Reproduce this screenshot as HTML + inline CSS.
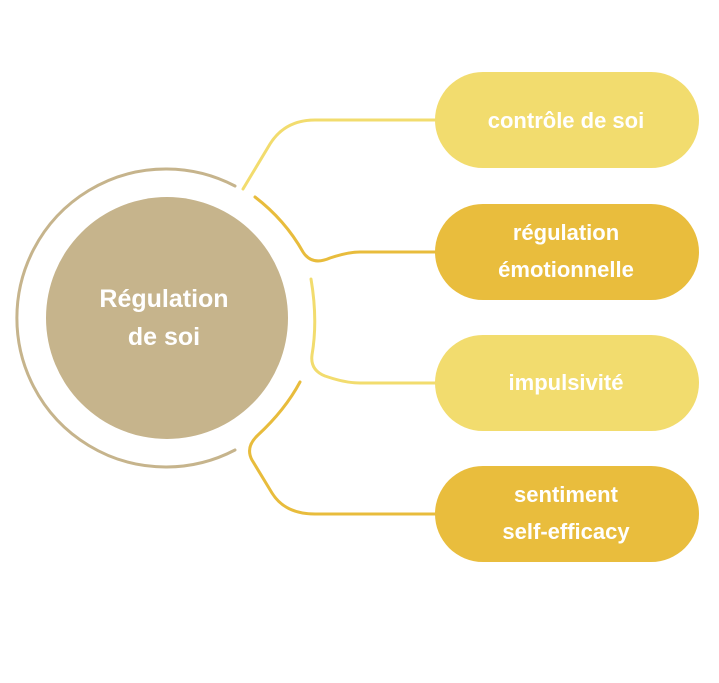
<!DOCTYPE html>
<html><head><meta charset="utf-8"><style>
body{margin:0;background:#fff;width:719px;height:678px;overflow:hidden}
</style></head><body>
<svg width="719" height="678" viewBox="0 0 719 678" xmlns="http://www.w3.org/2000/svg" style="font-family:'Liberation Sans',sans-serif;font-weight:bold">
<path d="M235,186 A149,149 0 1 0 235,450" fill="none" stroke="#c6b48c" stroke-width="3" stroke-linecap="round" transform="translate(0,0)"/>
<circle cx="167" cy="318" r="121" fill="#c6b48c"/>
<text x="164" y="307" fill="#fff" font-size="25" text-anchor="middle">Régulation</text>
<text x="164" y="345" fill="#fff" font-size="25" text-anchor="middle">de soi</text>
<g fill="none" stroke-width="3" stroke-linecap="round">
<path d="M243,189 L270,144 Q285,120 315,120 L440,120" stroke="#f2dc6e"/>
<path d="M255,197 Q285,220 303,252 Q312,266 330,258 Q348,252 360,252 L440,252" stroke="#e8bc3c"/>
<path d="M311,279 Q318,320 312,355 Q310,370 325,376 Q345,383 360,383 L440,383" stroke="#f2dc6e"/>
<path d="M300,382 Q285,410 258,435 Q245,447 252,460 L272,493 Q285,514 315,514 L440,514" stroke="#e8bc3c"/>
</g>
<rect x="435" y="72" width="264" height="96" rx="48" fill="#f2dc6e"/>
<rect x="435" y="204" width="264" height="96" rx="48" fill="#e9bd3d"/>
<rect x="435" y="335" width="264" height="96" rx="48" fill="#f2dc6e"/>
<rect x="435" y="466" width="264" height="96" rx="48" fill="#e9bd3d"/>
<g fill="#fff" font-size="22" text-anchor="middle">
<text x="566" y="128">contrôle de soi</text>
<text x="566" y="240">régulation</text>
<text x="566" y="277">émotionnelle</text>
<text x="566" y="390">impulsivité</text>
<text x="566" y="502">sentiment</text>
<text x="566" y="539">self-efficacy</text>
</g>
</svg>
</body></html>
